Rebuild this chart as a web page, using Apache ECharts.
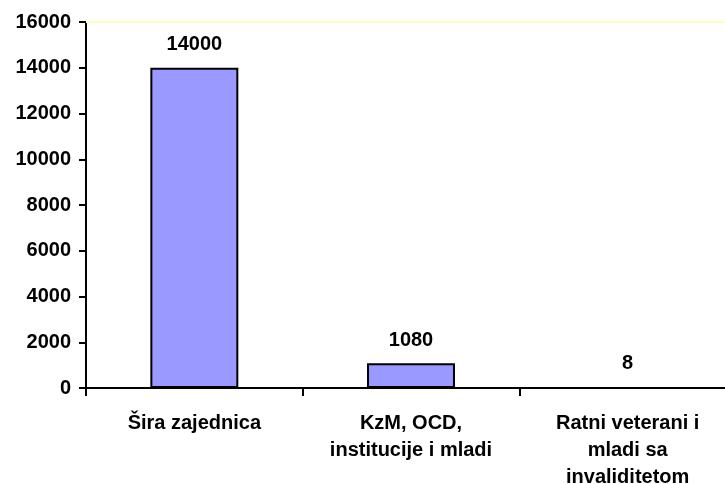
<!DOCTYPE html>
<html>
<head>
<meta charset="utf-8">
<script src="https://cdn.jsdelivr.net/npm/echarts@6/dist/echarts.min.js"></script>
<style>html,body{margin:0;padding:0;background:#fff;overflow:hidden;width:725px;height:484px}#c{width:737px;height:484px}</style>
</head>
<body>
<div id="c"></div>
<script>
const categories = ['Šira zajednica', 'KzM, OCD,\ninstitucije i mladi', 'Ratni veterani i\nmladi sa\ninvaliditetom'];
const values = [14000, 1080, 8];
const yTicks = { min: 0, max: 16000, interval: 2000 };

const FONT = 'Liberation Sans';
const chart = echarts.init(document.getElementById('c'));
chart.setOption({
  animation: false,
  backgroundColor: '#ffffff',
  grid: { left: 86, top: 22, height: 366, width: 650, containLabel: false, outerBoundsMode: 'none' },
  xAxis: {
    type: 'category',
    data: categories,
    boundaryGap: true,
    axisLine: { show: true, lineStyle: { color: '#000', width: 2 } },
    axisTick: { show: true, length: 8, lineStyle: { color: '#000', width: 2 } },
    axisLabel: {
      interval: 0, margin: 22, color: '#000', fontFamily: FONT, fontWeight: 'bold',
      fontSize: 20, lineHeight: 27, align: 'center'
    },
    splitLine: { show: false }
  },
  yAxis: {
    type: 'value',
    min: yTicks.min, max: yTicks.max, interval: yTicks.interval,
    axisLine: { show: true, lineStyle: { color: '#000', width: 2 } },
    axisTick: { show: true, length: 7, lineStyle: { color: '#000', width: 2 } },
    axisLabel: {
      margin: 15, color: '#000', fontFamily: FONT, fontWeight: 'bold', fontSize: 20,
      formatter: v => String(v)
    },
    splitLine: { show: false }
  },
  series: [{
    type: 'bar',
    data: values,
    barWidth: '40.6%',
    itemStyle: { color: '#9999FF', borderColor: '#000', borderWidth: 2 },
    label: {
      show: true, position: 'top', distance: 13, color: '#000',
      fontFamily: FONT, fontWeight: 'bold', fontSize: 20
    },
    markLine: {
      silent: true, symbol: 'none', label: { show: false },
      lineStyle: { color: '#FFFFC0', width: 2, type: 'solid' },
      data: [{ yAxis: yTicks.max }]
    }
  }]
});
</script>
</body>
</html>
